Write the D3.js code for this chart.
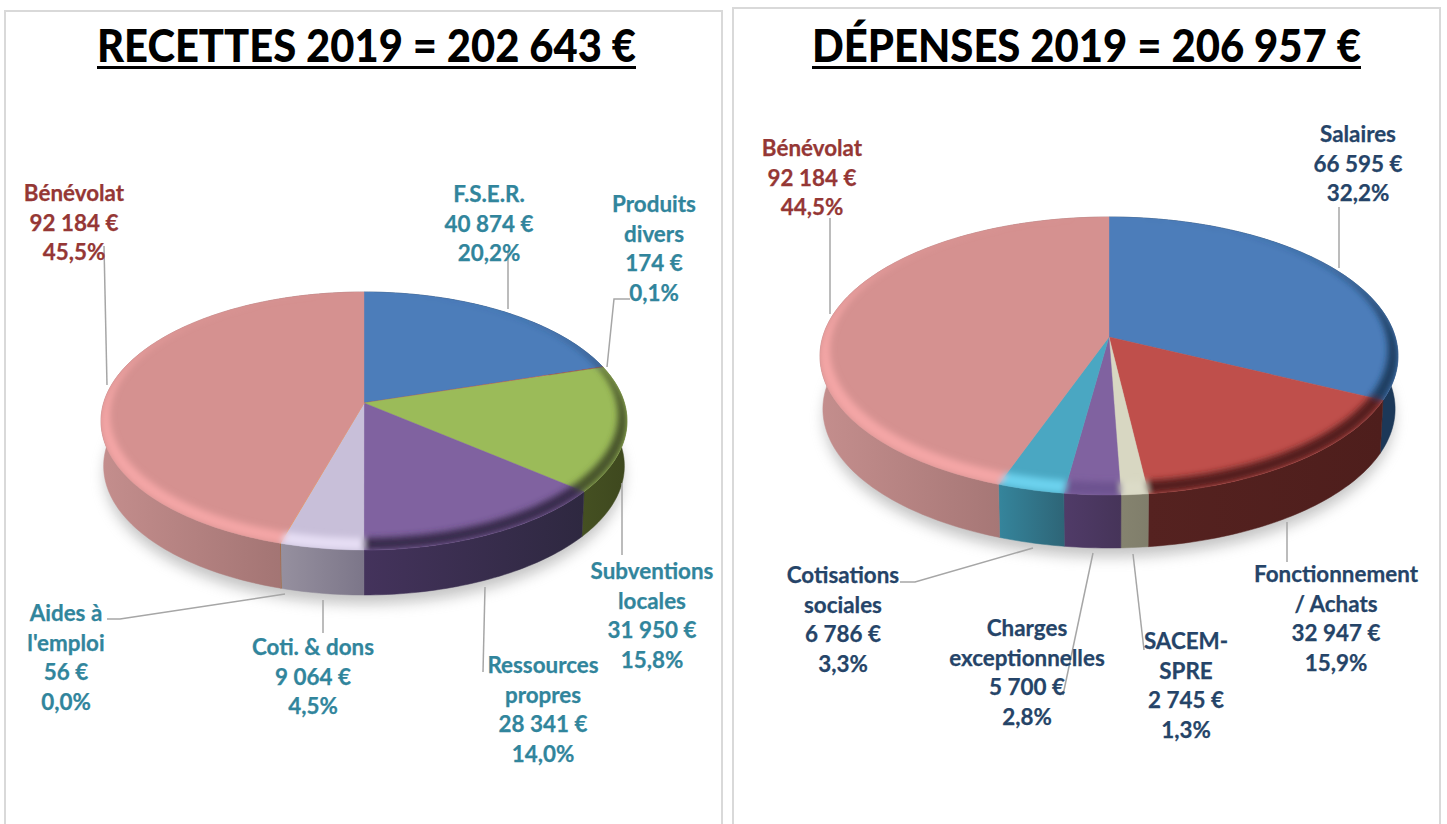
<!DOCTYPE html>
<html><head><meta charset="utf-8">
<script src="https://cdn.jsdelivr.net/npm/d3@7/dist/d3.min.js"></script>
<style>html,body{margin:0;padding:0;background:#fff;overflow:hidden}svg{display:block}text{font-family:Lato,"Open Sans",sans-serif;font-weight:700}</style>
</head><body><svg id="c" width="1447" height="824"></svg>
<script>
// ---- data ----
const recettesTitle = "RECETTES 2019 = 202 643 €";
const recettesNames = [["F.S.E.R."],["Produits","divers"],["Subventions","locales"],["Ressources","propres"],["Coti. & dons"],["Aides à","l'emploi"],["Bénévolat"]];
const recettesValues = [40874,174,31950,28341,9064,56,92184];
const recettesFace = ["#4c7dba","#c0504d","#9bbb59","#8062a0","#c8bfd9","#f79646","#d59190"];
const recettesBevel = ["#2a4a72","#7a2f2d","#46522a","#382b4c","#e6def4","#f79646","#f4a6a6"];
const recettesWallL = ["#1f3a5c","#4e1e1c","#455022","#44335c","#96909f","#a05f28","#c48e8d"];
const recettesWallR = ["#1f3a5c","#4e1e1c","#3e481e","#2e2840","#7c7689","#a05f28","#946968"];

const depensesTitle = "DÉPENSES 2019 = 206 957 €";
const depensesNames = [["Salaires"],["Fonctionnement","/ Achats"],["SACEM-","SPRE"],["Charges","exceptionnelles"],["Cotisations","sociales"],["Bénévolat"]];
const depensesValues = [66595,32947,2745,5700,6786,92184];
const depensesFace = ["#4c7dba","#bf4f4b","#d8d7c2","#8062a0","#4aa7c2","#d59190"];
const depensesBevel = ["#1e3d60","#521f1d","#dcdbc8","#6d5290","#6cd2ee","#f4a6a6"];
const depensesWallL = ["#1c3858","#552220","#85836f","#503b68","#35859c","#c48e8d"];
const depensesWallR = ["#1c3858","#4e1e1c","#807e6b","#463459","#2e6577","#946968"];

// ---- layout ----
const recettesPie = {cx:364,cy:403,rx:263,a:111,c:147,ci:135,rxi:254,depth:45,k:"r"};
const depensesPie = {cx:1109,cy:337,rx:289,a:120,c:158,ci:145,rxi:279,depth:53,k:"d"};
const recettesLabelAt = [[489,194],[654,204],[652,571],[543,665],[313,647],[66,613],[74,193]];
const depensesLabelAt = [[1358,134],[1336,574],[1186,641],[1027,628],[843,575],[812,148]];
const recettesLeaders = [[[508,252],[508,309]],[[630,299],[614,299],[607,367]],[[622,483],[622,555]],[[485,587],[483,672]],[[323,600],[323,633]],[[285,594],[120,619],[107,619]],[[104,246],[107,385]]];
const depensesLeaders = [[[1339,207],[1339,268]],[[1287,522],[1287,562]],[[1133,554],[1144,650]],[[1093,553],[1063,695]],[[1033,548],[915,582],[900,582]],[[830,218],[830,314]]];
const panels = [[5,11,717],[733,8,707]];

const svg = d3.select("#c"), defs = svg.append("defs");
const nf = d3.formatLocale({decimal:",",thousands:" ",grouping:[3],currency:["","€"]});
const fInt = nf.format(",d"), fPct = nf.format(".1f");
const labelLine = d3.line();

defs.append("filter").attr("id","soft").attr("x","-10%").attr("y","-10%").attr("width","120%").attr("height","120%")
  .append("feGaussianBlur").attr("stdDeviation",7);
defs.append("filter").attr("id","bev").attr("x","-5%").attr("y","-5%").attr("width","110%").attr("height","110%")
  .append("feGaussianBlur").attr("stdDeviation",3);

panels.forEach(p=>{
  svg.append("path").attr("d",labelLine([[p[0],830],[p[0],p[1]],[p[0]+p[2],p[1]],[p[0]+p[2],830]]))
    .attr("fill","none").attr("stroke","#d9d9d9").attr("stroke-width",2);
});

function projector(P,c,rx){
  const k=(c-P.a)/(c+P.a), b=P.a*(1+k), R=rx*Math.sqrt(1-k*k);
  return t=>{const u=Math.sin(t),v=-Math.cos(t),d=1-k*v;return [P.cx+R*u/d,P.cy+b*v/d];};
}
function arcPts(f,t0,t1){
  const n=Math.max(2,Math.ceil((t1-t0)/0.02));
  return d3.range(n+1).map(i=>f(t0+(t1-t0)*i/n));
}

function drawPie(P,title,names,values,face,bevel,wallL,wallR,labelAt,leaders,color){
  const total=d3.sum(values);
  const arcs=d3.pie().sort(null).value(d=>d)(values);
  const outer=projector(P,P.c,P.rx), inner=projector(P,P.ci,P.rxi);
  const line=d3.line(); const g=svg.append("g");
  // shadow
  const all=arcPts(outer,0,2*Math.PI).map(p=>[P.cx+(p[0]-P.cx)*0.985,p[1]+P.depth+9]);
  g.append("path").attr("d",line(all)+"Z").attr("fill","#8a8a8a").attr("opacity",.5).attr("filter","url(#soft)");
  // walls
  arcs.forEach((a,i)=>{
    const id="w"+P.k+i;
    const gr=defs.append("linearGradient").attr("id",id);
    gr.append("stop").attr("offset",0).attr("stop-color",wallL[i]);
    gr.append("stop").attr("offset",1).attr("stop-color",wallR[i]);
    const top=arcPts(outer,a.startAngle,a.endAngle);
    const bot=top.map(p=>[P.cx+(p[0]-P.cx)*0.99,p[1]+P.depth]).reverse();
    g.append("path").attr("d",line(top.concat(bot))+"Z").attr("fill",`url(#${id})`).attr("stroke",`url(#${id})`).attr("stroke-width",.5);
  });
  // top face
  arcs.forEach((a,i)=>{
    const pts=[[P.cx,P.cy]].concat(arcPts(outer,a.startAngle,a.endAngle));
    g.append("path").attr("d",line(pts)+"Z").attr("fill",face[i]).attr("stroke",face[i]).attr("stroke-width",.4);
  });
  // bevelled rim, clipped to the top face
  const clip=defs.append("clipPath").attr("id","top"+P.k);
  clip.append("path").attr("d",line(arcPts(outer,0,2*Math.PI))+"Z");
  const rim=g.append("g").attr("clip-path",`url(#top${P.k})`).append("g").attr("filter","url(#bev)");
  arcs.forEach((a,i)=>{
    const oo=arcPts(outer,a.startAngle,a.endAngle), ii=arcPts(inner,a.startAngle,a.endAngle).reverse();
    rim.append("path").attr("d",line(oo.concat(ii))+"Z").attr("fill",bevel[i]);
  });
  // leaders
  leaders.forEach(l=>g.append("path").attr("d",line(l)).attr("fill","none").attr("stroke","#a6a6a6").attr("stroke-width",1.5));
  // labels
  arcs.forEach((a,i)=>{
    const lines=names[i].concat([fInt(values[i])+" €", fPct(values[i]/total*100)+"%"]);
    const col=color(i);
    const tx=g.append("text").attr("text-anchor","middle").attr("font-size",22.4).attr("fill",col)
      .attr("stroke",col).attr("stroke-width",.25);
    lines.forEach((s,j)=>tx.append("tspan").attr("x",labelAt[i][0]).attr("y",labelAt[i][1]+8+j*29.5).text(s));
  });
  return g;
}
function drawTitle(text,cx,w){
  const t=svg.append("text").attr("x",cx).attr("y",62).attr("text-anchor","middle").attr("font-size",46).attr("fill","#000")
    .attr("textLength",w).attr("lengthAdjust","spacingAndGlyphs").style("font-weight",900).text(text);
  svg.append("line").attr("x1",cx-w/2).attr("x2",cx+w/2).attr("y1",67.5).attr("y2",67.5).attr("stroke","#000").attr("stroke-width",3);
}
drawPie(recettesPie,recettesTitle,recettesNames,recettesValues,recettesFace,recettesBevel,recettesWallL,recettesWallR,recettesLabelAt,recettesLeaders,
  i=>i===6?"#953735":"#31859c");
drawPie(depensesPie,depensesTitle,depensesNames,depensesValues,depensesFace,depensesBevel,depensesWallL,depensesWallR,depensesLabelAt,depensesLeaders,
  i=>i===5?"#953735":"#254468");
drawTitle(recettesTitle,366.5,539);
drawTitle(depensesTitle,1086.5,549);
</script></body></html>
